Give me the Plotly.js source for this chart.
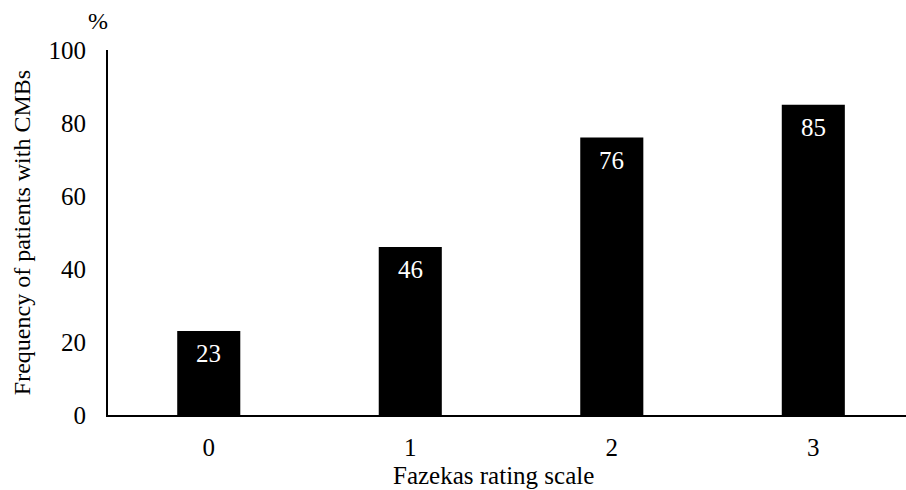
<!DOCTYPE html>
<html>
<head>
<meta charset="utf-8">
<script src="https://cdn.plot.ly/plotly-3.0.1.min.js"></script>
<style>html,body{margin:0;padding:0;background:#fff;}#chart{width:906px;height:490px;}</style>
</head>
<body>
<div id="chart"></div>
<script>
var categories = ["0", "1", "2", "3"];
var values = [23, 46, 76, 85];
var yTicks = [0, 20, 40, 60, 80, 100];
var xTitle = "Fazekas rating scale";
var yTitle = "Frequency of patients with CMBs";
var yUnit = "%";

var FONT = "Liberation Serif, Times New Roman, serif";

var trace = {
  type: "bar",
  x: categories,
  y: values,
  width: 0.313,
  marker: {color: "#000000", line: {width: 0}},
  hoverinfo: "x+y"
};

var labelAnnotations = categories.map(function (c, i) {
  return {
    x: c, y: values[i],
    xref: "x", yref: "y",
    text: String(values[i]),
    showarrow: false,
    xanchor: "center", yanchor: "top",
    yshift: -7,
    font: {family: FONT, size: 25, color: "#ffffff"}
  };
});

var layout = {
  width: 906,
  height: 490,
  margin: {l: 108, r: 0, t: 50, b: 75, pad: 0},
  paper_bgcolor: "#ffffff",
  plot_bgcolor: "#ffffff",
  font: {family: FONT, size: 25, color: "#000000"},
  showlegend: false,
  xaxis: {
    type: "category",
    range: [-0.5, 3.46],
    showline: true,
    linecolor: "#000000",
    linewidth: 2,
    ticks: "",
    showgrid: false,
    zeroline: false,
    ticklabelstandoff: 9,
    tickfont: {family: FONT, size: 25, color: "#000000"},
    automargin: false
  },
  yaxis: {
    range: [0, 100],
    tickvals: yTicks,
    ticktext: yTicks.map(String),
    showline: true,
    linecolor: "#000000",
    linewidth: 2,
    ticks: "",
    showgrid: false,
    zeroline: false,
    ticklabelstandoff: 15,
    tickfont: {family: FONT, size: 25, color: "#000000"},
    title: {text: yTitle, font: {family: FONT, size: 24, color: "#000000"}, standoff: 11},
    automargin: false
  },
  annotations: labelAnnotations.concat([
    {
      text: yUnit,
      xref: "paper", yref: "paper",
      x: -0.012, y: 1.08,
      xanchor: "center", yanchor: "middle",
      showarrow: false,
      font: {family: FONT, size: 24, color: "#000000"}
    },
    {
      text: xTitle,
      xref: "paper", yref: "paper",
      x: 0.4837, y: -0.165,
      xanchor: "center", yanchor: "middle",
      showarrow: false,
      font: {family: FONT, size: 25, color: "#000000"}
    }
  ]),
  bargap: 0.687
};

Plotly.newPlot("chart", [trace], layout, {displayModeBar: false, staticPlot: true});
</script>
</body>
</html>
